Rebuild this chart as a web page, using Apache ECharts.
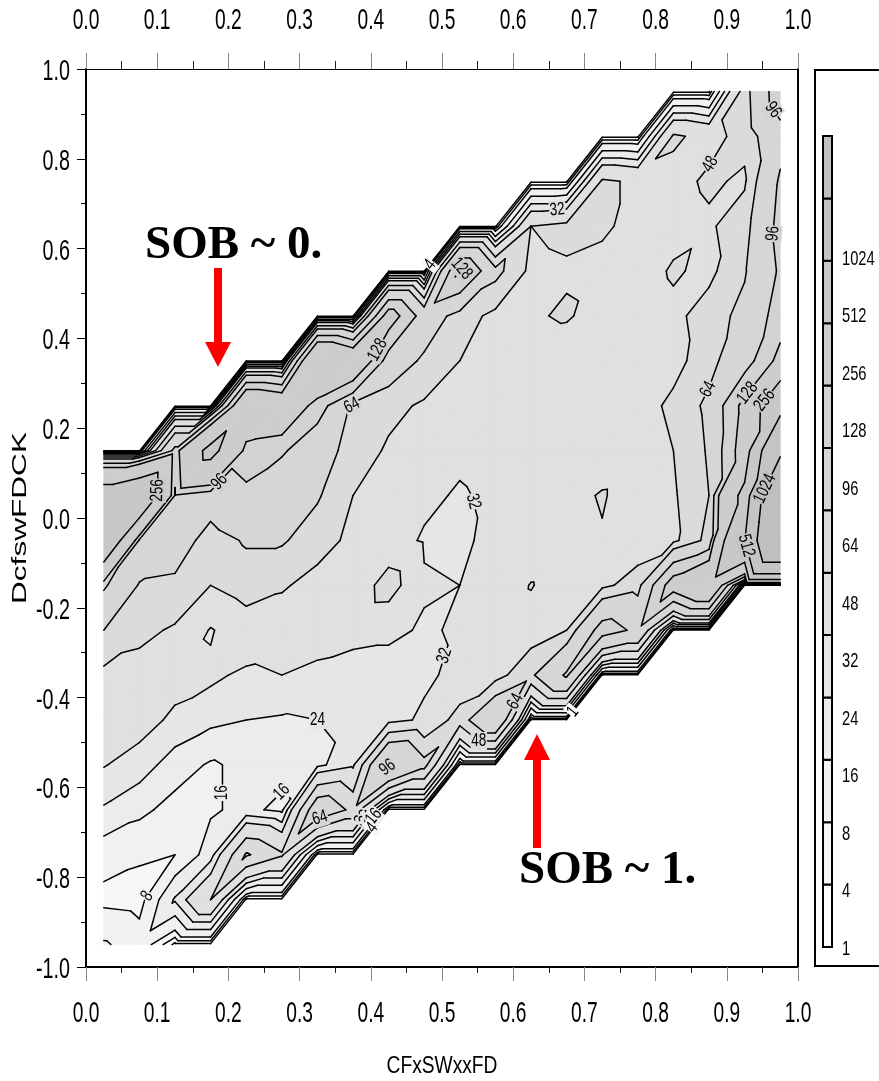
<!DOCTYPE html>
<html>
<head>
<meta charset="utf-8">
<script src="https://cdn.jsdelivr.net/npm/echarts@6/dist/echarts.min.js"></script>
<style>
  html, body { margin: 0; padding: 0; background: #ffffff; }
  #chart { width: 879px; height: 1081px; }
</style>
</head>
<body>
<div id="chart"></div>
<script>
// Contour levels and the grey used for each band [level_i, level_i+1)
const LEVELS = [1, 4, 8, 16, 24, 32, 48, 64, 96, 128, 256, 512, 1024];
const BAND_COLORS = ['#ffffff', '#f7f7f7', '#f1f1f1', '#ececec', '#e6e6e6', '#e0e0e0',
                     '#dbdbdb', '#d6d6d6', '#d2d2d2', '#cdcdcd', '#c8c8c8', '#c4c4c4', '#bfbfbf'];

// Grid nodes
const xNodes = [0.025, 0.075, 0.125, 0.175, 0.225, 0.275, 0.325, 0.375, 0.425, 0.475,
                0.525, 0.575, 0.625, 0.675, 0.725, 0.775, 0.825, 0.875, 0.925, 0.975];
const yNodes = [-0.95, -0.85, -0.75, -0.65, -0.55, -0.45, -0.35, -0.25, -0.15, -0.05,
                0.05, 0.15, 0.25, 0.35, 0.45, 0.55, 0.65, 0.75, 0.85, 0.95];

// Gridded values, one row per y node (bottom to top); null = outside the sampled band
const _ = null;
const rowM095 = [17, 12, 0, 0, _, _, _, _, _, _, _, _, _, _, _, _, _, _, _, _];
const rowM085 = [6, 5, 25, 48, 0, 0, _, _, _, _, _, _, _, _, _, _, _, _, _, _];
const rowM075 = [11, 9, 8, 20, 66, 50, 0, 0, _, _, _, _, _, _, _, _, _, _, _, _];
const rowM065 = [23, 18, 13, 15, 18, 14, 80, 60, 0, 0, _, _, _, _, _, _, _, _, _, _];
const rowM055 = [32.5, 28, 20, 15, 18, 19, 22, 30, 100, 70, 0, 0, _, _, _, _, _, _, _, _];
const rowM045 = [40, 36, 30, 26, 24, 23, 24, 26, 28, 34, 55, 90, 0, 0, _, _, _, _, _, _];
const rowM035 = [44, 42, 36, 34, 30, 32, 30, 28, 28, 30, 35, 42, 60, 100, 0, 0, _, _, _, _];
const rowM025 = [64, 52, 46, 31, 40, 38, 36, 35, 34, 31, 33, 36, 40, 48, 110, 90, 0, 0, _, _];
const rowM015 = [100, 62, 60, 48, 55, 50, 42, 36, 56, 33, 32, 34, 49, 38, 44, 56, 150, 200, 0, 0];
const rowM005 = [400, 90, 75, 56, 66, 66, 55, 44, 36, 31, 30, 35, 34, 36, 46, 38, 44, 70, 500, 2000];
const rowP005 = [340, 420, 94, 75, 90, 72, 66, 48, 40, 34, 31, 34, 38, 40, 50, 36, 46, 64, 300, 1800];
const rowP015 = [0, 0, 105, 300, 110, 100, 75, 56, 46, 40, 34, 36, 38, 36, 34, 36, 48, 66, 150, 900];
const rowP025 = [_, _, 0, 0, 200, 180, 110, 62, 52, 46, 40, 38, 36, 38, 40, 40, 52, 68, 140, 400];
const rowP035 = [_, _, _, _, 0, 0, 220, 180, 80, 60, 48, 42, 38, 36, 38, 36, 42, 58, 80, 140];
const rowP045 = [_, _, _, _, _, _, 0, 0, 150, 80, 55, 44, 46, 50, 40, 38, 44, 55, 70, 110];
const rowP055 = [_, _, _, _, _, _, _, _, 0, 0, 135, 70, 44, 46, 44, 40, 50, 44, 62, 100];
const rowP065 = [_, _, _, _, _, _, _, _, _, _, 0, 0, 48, 52, 50, 44, 42, 46, 56, 105];
const rowP075 = [_, _, _, _, _, _, _, _, _, _, _, _, 0, 0, 50, 46, 44, 50, 46, 100];
const rowP085 = [_, _, _, _, _, _, _, _, _, _, _, _, _, _, 0, 0, 50, 44, 52, 85];
const rowP095 = [_, _, _, _, _, _, _, _, _, _, _, _, _, _, _, _, 0, 0, 55, 115];

const gridRows = [rowM095, rowM085, rowM075, rowM065, rowM055, rowM045, rowM035, rowM025,
                  rowM015, rowM005, rowP005, rowP015, rowP025, rowP035, rowP045, rowP055,
                  rowP065, rowP075, rowP085, rowP095];

// Contour label spots: [x, y, level]; each label is snapped onto its own contour
const labelSpots = [
  [0.949, 0.891, 96], [0.879, 0.786, 48], [0.660, 0.719, 32], [0.466, 0.586, 4],
  [0.528, 0.579, 128], [0.954, 0.635, 96], [0.404, 0.379, 128], [0.371, 0.258, 64],
  [0.876, 0.285, 64], [0.938, 0.267, 128], [0.961, 0.252, 256], [0.086, 0.062, 256],
  [0.195, 0.069, 96], [0.525, 0.029, 32], [0.958, 0.062, 1024], [0.931, -0.060, 512],
  [0.500, -0.305, 32], [0.333, -0.421, 24], [0.261, -0.584, 16], [0.187, -0.612, 16],
  [0.326, -0.655, 64], [0.424, -0.557, 96], [0.534, -0.532, 48], [0.631, -0.432, 64],
  [0.667, -0.410, 1], [0.388, -0.668, 32], [0.400, -0.676, 24], [0.421, -0.686, 16],
  [0.415, -0.706, 4], [0.069, -0.824, 8]
];

// Tick values
const xTicks = [0, 0.1, 0.2, 0.3, 0.4, 0.5, 0.6, 0.7, 0.8, 0.9, 1.0];
const yTicks = [-1, -0.8, -0.6, -0.4, -0.2, 0, 0.2, 0.4, 0.6, 0.8, 1.0];
// Colour bar tick labels (bottom to top)
const barLabels = ['1', '4', '8', '16', '24', '32', '48', '64', '96', '128', '256', '512', '1024'];

// ---------- contour geometry (linear interpolation over a triangulated grid) ----------
function node(k, j) {
  const v = gridRows[j][k];
  return v === null ? null : { x: xNodes[k], y: yNodes[j], v: v };
}
function clipPoly(poly, lv, keepAbove) {
  const out = [];
  for (let i = 0; i < poly.length; i++) {
    const p = poly[i], q = poly[(i + 1) % poly.length];
    const pin = keepAbove ? p.v >= lv : p.v <= lv;
    const qin = keepAbove ? q.v >= lv : q.v <= lv;
    if (pin) out.push(p);
    if (pin !== qin) {
      const t = (lv - p.v) / (q.v - p.v);
      out.push({ x: p.x + t * (q.x - p.x), y: p.y + t * (q.y - p.y), v: lv });
    }
  }
  return out;
}
const fillPolys = [];
const segsByLevel = {};
LEVELS.forEach(l => { segsByLevel[l] = []; });

function addTriangle(tri) {
  const vs = tri.map(p => p.v);
  const vmin = Math.min.apply(null, vs), vmax = Math.max.apply(null, vs);
  for (let b = -1; b < LEVELS.length; b++) {
    const lo = b < 0 ? -Infinity : LEVELS[b];
    const hi = b < LEVELS.length - 1 ? LEVELS[b + 1] : Infinity;
    if (vmax < lo || vmin >= hi) continue;
    let poly = tri;
    if (isFinite(lo)) poly = clipPoly(poly, lo, true);
    if (poly.length >= 3 && isFinite(hi)) poly = clipPoly(poly, hi, false);
    if (poly.length >= 3) fillPolys.push({ pts: poly.map(p => [p.x, p.y]), color: b < 0 ? '#ffffff' : BAND_COLORS[b] });
  }
  LEVELS.forEach(L => {
    const pts = [];
    for (let i = 0; i < 3; i++) {
      const p = tri[i], q = tri[(i + 1) % 3];
      const pa = p.v >= L, qa = q.v >= L;
      if (pa !== qa) {
        const t = (L - p.v) / (q.v - p.v);
        pts.push([p.x + t * (q.x - p.x), p.y + t * (q.y - p.y)]);
      }
    }
    if (pts.length === 2) segsByLevel[L].push([pts[0][0], pts[0][1], pts[1][0], pts[1][1]]);
  });
}
for (let j = 0; j < yNodes.length - 1; j++) {
  for (let k = 0; k < xNodes.length - 1; k++) {
    const a = node(k, j), b = node(k + 1, j), c = node(k + 1, j + 1), d = node(k, j + 1);
    if (a && b && c) addTriangle([a, b, c]);
    if (a && c && d) addTriangle([a, c, d]);
  }
}
const lineSegs = [];
LEVELS.forEach(L => segsByLevel[L].forEach(s => lineSegs.push(s)));

// ---------- plot layout ----------
const PLOT = { left: 86, top: 69, width: 712, height: 898 };
const SX = PLOT.width, SY = PLOT.height / 2;

// snap each label onto the nearest segment of its level
const labelData = labelSpots.map(([x, y, L]) => {
  let best = null, bestD = Infinity;
  (segsByLevel[L] || []).forEach(s => {
    const ax = s[0] * SX, ay = s[1] * SY, bx = s[2] * SX, by = s[3] * SY;
    const px = x * SX, py = y * SY;
    const dx = bx - ax, dy = by - ay;
    const len2 = dx * dx + dy * dy || 1e-9;
    let t = ((px - ax) * dx + (py - ay) * dy) / len2;
    t = Math.max(0, Math.min(1, t));
    const cx = ax + t * dx, cy = ay + t * dy;
    const dd = Math.hypot(px - cx, py - cy);
    if (dd < bestD) { bestD = dd; best = { x: cx / SX, y: cy / SY, ang: Math.atan2(dy, dx) }; }
  });
  let lx = x, ly = y, ang = 0;
  if (best && bestD < 60) {
    lx = best.x; ly = best.y; ang = best.ang;
    if (ang > Math.PI / 2) ang -= Math.PI;
    if (ang < -Math.PI / 2) ang += Math.PI;
  }
  let band = 0;
  for (let i = 0; i < LEVELS.length; i++) if (L >= LEVELS[i]) band = i;
  return [lx, ly, ang, String(L), BAND_COLORS[band]];
});

const SANS = "'Liberation Sans',Arial,Helvetica,sans-serif";
const SERIF = "'Liberation Serif','Times New Roman',serif";
const tickFmt = v => (Math.abs(v) < 1e-9 ? 0 : v).toFixed(1);

// narrow tall lettering used for tick values
function tickText(pt, dx, dy, text, align, size, squeeze) {
  return {
    type: 'text', x: pt[0] + dx, y: pt[1] + dy, scaleX: squeeze,
    style: { text: text, font: size + 'px ' + SANS, fill: '#000', align: align, verticalAlign: 'middle' }
  };
}

const chart = echarts.init(document.getElementById('chart'), null, { renderer: 'canvas' });

chart.setOption({
  animation: false,
  backgroundColor: '#ffffff',
  grid: [
    { left: PLOT.left, top: PLOT.top, width: PLOT.width, height: PLOT.height, show: false },
    { left: 823, top: 136, width: 9, height: 811, show: false },
    { left: 823, top: 257, width: 9, height: 690, show: false }
  ],
  xAxis: [
    {
      gridIndex: 0, type: 'value', min: 0, max: 1, interval: 0.1, position: 'bottom',
      axisLine: { show: true, onZero: false, lineStyle: { color: '#000', width: 2 } },
      axisTick: { show: true, length: 14, lineStyle: { color: '#8a8a8a', width: 1 } },
      minorTick: { show: true, splitNumber: 2, length: 6, lineStyle: { color: '#222', width: 1 } },
      splitLine: { show: false }, minorSplitLine: { show: false },
      axisLabel: { show: false }
    },
    {
      gridIndex: 0, type: 'value', min: 0, max: 1, interval: 0.1, position: 'top',
      axisLine: { show: true, onZero: false, lineStyle: { color: '#000', width: 1 } },
      axisTick: { show: true, length: 16, lineStyle: { color: '#8a8a8a', width: 1 } },
      minorTick: { show: true, splitNumber: 2, length: 8, lineStyle: { color: '#222', width: 1 } },
      splitLine: { show: false }, minorSplitLine: { show: false },
      axisLabel: { show: false }
    },
    { gridIndex: 1, type: 'value', min: 0, max: 1, show: false },
    { gridIndex: 2, type: 'value', min: 0, max: 1, show: false }
  ],
  yAxis: [
    {
      gridIndex: 0, type: 'value', min: -1, max: 1, interval: 0.2, position: 'left',
      axisLine: { show: true, onZero: false, lineStyle: { color: '#000', width: 2 } },
      axisTick: { show: true, length: 9, lineStyle: { color: '#000', width: 1 } },
      minorTick: { show: true, splitNumber: 2, length: 5, lineStyle: { color: '#000', width: 1 } },
      splitLine: { show: false }, minorSplitLine: { show: false },
      axisLabel: { show: false }
    },
    {
      gridIndex: 0, type: 'value', min: -1, max: 1, position: 'right',
      axisLine: { show: true, onZero: false, lineStyle: { color: '#000', width: 2 } },
      axisTick: { show: false }, axisLabel: { show: false }, splitLine: { show: false }
    },
    { gridIndex: 1, type: 'value', min: 0, max: 13, show: false },
    {
      gridIndex: 2, type: 'value', min: 0, max: 12, interval: 1, position: 'right',
      axisLine: { show: false },
      axisTick: { show: true, length: 4, inside: false, lineStyle: { color: '#000', width: 1 } },
      splitLine: { show: false },
      axisLabel: { show: false }
    }
  ],
  series: [
    {
      // filled contour bands
      type: 'custom', xAxisIndex: 0, yAxisIndex: 0, z: 1, silent: true, progressive: 0,
      data: fillPolys.map((p, i) => [p.pts[0][0], p.pts[0][1], i]),
      encode: { x: 0, y: 1 },
      renderItem: (params, api) => {
        const p = fillPolys[api.value(2)];
        return {
          type: 'polygon',
          shape: { points: p.pts.map(pt => api.coord(pt)) },
          style: { fill: p.color, stroke: p.color, lineWidth: 0.8 }
        };
      }
    },
    {
      // contour lines
      type: 'custom', xAxisIndex: 0, yAxisIndex: 0, z: 2, silent: true, progressive: 0,
      data: lineSegs,
      encode: { x: [0, 2], y: [1, 3] },
      renderItem: (params, api) => {
        const a = api.coord([api.value(0), api.value(1)]);
        const b = api.coord([api.value(2), api.value(3)]);
        return {
          type: 'line',
          shape: { x1: a[0], y1: a[1], x2: b[0], y2: b[1] },
          style: { stroke: '#000', lineWidth: 1.5, lineCap: 'round' }
        };
      }
    },
    {
      // contour labels
      type: 'custom', xAxisIndex: 0, yAxisIndex: 0, z: 3, silent: true,
      data: labelData,
      encode: { x: 0, y: 1 },
      renderItem: (params, api) => {
        const d = labelData[params.dataIndex];
        const pt = api.coord([d[0], d[1]]);
        return {
          type: 'text', x: pt[0], y: pt[1], rotation: d[2], scaleX: 0.75,
          style: {
            text: d[3], font: '18px ' + SANS, fill: '#000',
            align: 'center', verticalAlign: 'middle',
            backgroundColor: d[4], padding: [0, 1]
          }
        };
      }
    },
    {
      // bottom tick values
      type: 'custom', xAxisIndex: 0, yAxisIndex: 0, z: 4, silent: true, clip: false,
      data: xTicks.map(v => [v, -1]), encode: { x: 0, y: 1 },
      renderItem: (params, api) => tickText(api.coord([api.value(0), api.value(1)]), 0, 47,
        tickFmt(xTicks[params.dataIndex]), 'center', 30, 0.64)
    },
    {
      // top tick values
      type: 'custom', xAxisIndex: 0, yAxisIndex: 0, z: 4, silent: true, clip: false,
      data: xTicks.map(v => [v, 1]), encode: { x: 0, y: 1 },
      renderItem: (params, api) => tickText(api.coord([api.value(0), api.value(1)]), 0, -48,
        tickFmt(xTicks[params.dataIndex]), 'center', 30, 0.64)
    },
    {
      // left tick values
      type: 'custom', xAxisIndex: 0, yAxisIndex: 0, z: 4, silent: true, clip: false,
      data: yTicks.map(v => [0, v]), encode: { x: 0, y: 1 },
      renderItem: (params, api) => tickText(api.coord([api.value(0), api.value(1)]), -16, 3,
        tickFmt(yTicks[params.dataIndex]), 'right', 29, 0.68)
    },
    {
      // colour bar segments
      type: 'custom', xAxisIndex: 2, yAxisIndex: 2, z: 2, silent: true,
      data: BAND_COLORS.map((c, i) => [0, i]),
      encode: { x: 0, y: 1 },
      renderItem: (params, api) => {
        const i = api.value(1);
        const p0 = api.coord([0, i + 1]);
        const p1 = api.coord([1, i]);
        return {
          type: 'rect',
          shape: { x: p0[0], y: p0[1], width: p1[0] - p0[0], height: p1[1] - p0[1] },
          style: { fill: BAND_COLORS[i], stroke: '#000', lineWidth: 2 }
        };
      }
    },
    {
      // colour bar tick values
      type: 'custom', xAxisIndex: 3, yAxisIndex: 3, z: 4, silent: true, clip: false,
      data: barLabels.map((t, i) => [1, i]), encode: { x: 0, y: 1 },
      renderItem: (params, api) => tickText(api.coord([api.value(0), api.value(1)]), 10, 2,
        barLabels[params.dataIndex], 'left', 21, 0.7)
    }
  ],
  graphic: [
    { type: 'rect', silent: true, shape: { x: 815, y: 70, width: 200, height: 896 },
      style: { fill: 'none', stroke: '#000', lineWidth: 2 } },
    { type: 'text', silent: true, x: 442, y: 1066, scaleX: 0.8,
      style: { text: 'CFxSWxxFD', font: '24px ' + SANS, fill: '#000', align: 'center', verticalAlign: 'middle' } },
    { type: 'text', silent: true, x: 20, y: 518, rotation: Math.PI / 2, scaleX: 1.58,
      style: { text: 'DcfswFDCK', font: '20px ' + SANS, fill: '#000', align: 'center', verticalAlign: 'middle' } },
    { type: 'text', silent: true, x: 145, y: 246,
      style: { text: 'SOB ~ 0.', font: 'bold 47px ' + SERIF, fill: '#000', align: 'left', verticalAlign: 'middle' } },
    { type: 'text', silent: true, x: 519, y: 871,
      style: { text: 'SOB ~ 1.', font: 'bold 47px ' + SERIF, fill: '#000', align: 'left', verticalAlign: 'middle' } },
    { type: 'rect', silent: true, shape: { x: 214, y: 268, width: 8, height: 76 }, style: { fill: '#ff0000' } },
    { type: 'polygon', silent: true, shape: { points: [[205, 342], [231, 342], [218, 367]] }, style: { fill: '#ff0000' } },
    { type: 'rect', silent: true, shape: { x: 533, y: 758, width: 8, height: 90 }, style: { fill: '#ff0000' } },
    { type: 'polygon', silent: true, shape: { points: [[524, 760], [550, 760], [537, 734]] }, style: { fill: '#ff0000' } }
  ]
});
</script>
</body>
</html>
